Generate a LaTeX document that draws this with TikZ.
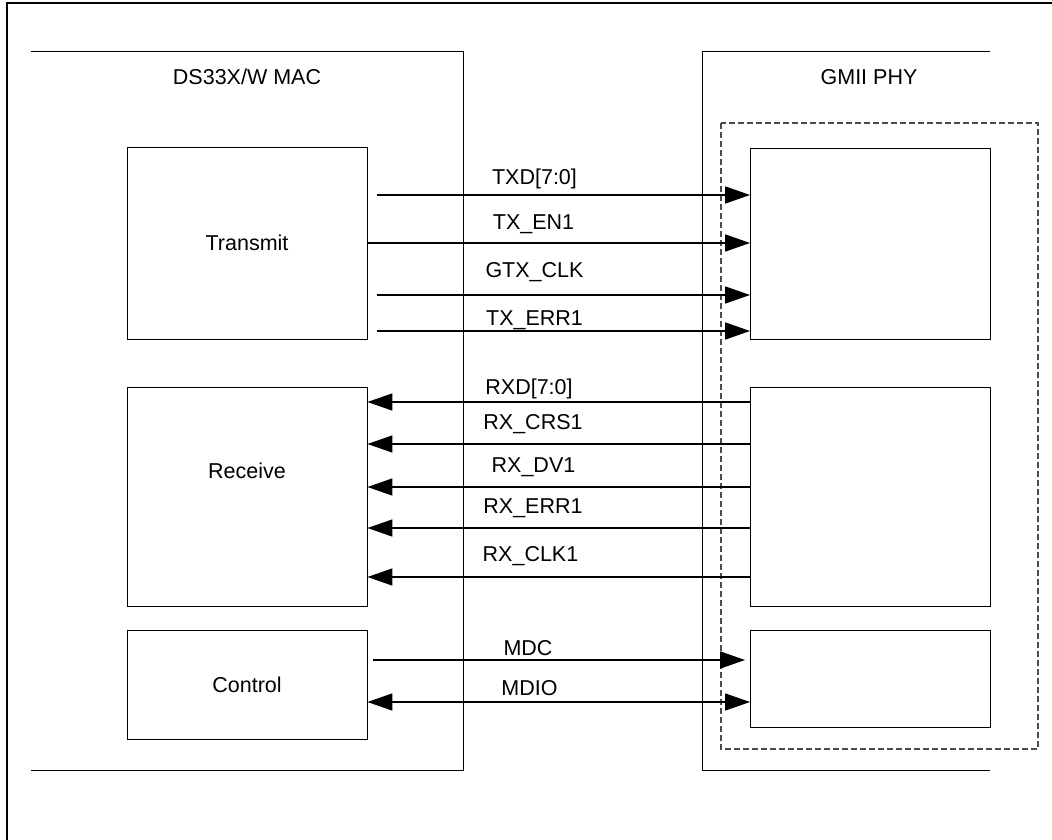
\documentclass[tikz,border=0pt]{standalone}
\usepackage{fontspec}
\setmainfont{Liberation Sans}
\usetikzlibrary{arrows.meta}

\tikzset{
  blk/.style={draw, line width=0.9pt, minimum width=240pt},
  sig/.style={line width=1.6pt, -{Triangle[length=25pt, width=17pt]}},
  bisig/.style={line width=1.6pt, {Triangle[length=25pt, width=17pt]}-{Triangle[length=25pt, width=17pt]}},
  phyarea/.style={draw=black!70, line width=1.2pt, dash pattern=on 6pt off 3pt}
}

\begin{document}
\begin{tikzpicture}[x=1pt, y=-1pt, font=\fontsize{21.5}{25}\selectfont]
  \useasboundingbox (0,0) rectangle (1052,840);

  % Outer frame
  \draw[line width=1.8pt] (7,840) -- (7,3) -- (1052,3);

  % MAC and PHY outlines
  \draw[line width=0.9pt] (31,51) -- (463,51) -- (463,770) -- (31,770);
  \draw[line width=0.9pt] (990,51) -- (702,51) -- (702,770) -- (990,770);
  \draw[phyarea] (721,123) rectangle (1038,749);
  \node (mac) at (247,77) {DS33X/W MAC};
  \node (phy) at (869,77) {GMII PHY};

  % Blocks
  \node[blk, minimum height=192pt] (tx) at (247,243) {Transmit};
  \node[blk, minimum height=219pt] (rx) at (247,496.5) {};
  \node (rxname) at (247,471) {Receive};
  \node[blk, minimum height=109pt] (ctl) at (247,684.5) {Control};
  \node[blk, minimum height=191pt] (ptx) at (870.5,243.5) {};
  \node[blk, minimum height=219pt] (prx) at (870.5,496.5) {};
  \node[blk, minimum height=97pt] (pctl) at (870.5,678.5) {};

  % Transmit signals
  \draw[sig, shorten <=10pt] (tx.east |- 0,195) -- (ptx.west |- 0,195);
  \draw[sig] (tx.east |- 0,243) -- (ptx.west |- 0,243);
  \draw[sig, shorten <=10pt] (tx.east |- 0,295) -- (ptx.west |- 0,295);
  \draw[sig, shorten <=10pt] (tx.east |- 0,331) -- (ptx.west |- 0,331);
  \node (txd) at (534.5,178.5) {TXD[7:0]};
  \node (txen) at (533.5,224.5) {TX\_EN1};
  \node (gtxclk) at (534.5,272) {GTX\_CLK};
  \node (txerr) at (534.5,320) {TX\_ERR1};

  % Receive signals
  \draw[sig] (prx.west |- 0,402) -- (rx.east |- 0,402);
  \draw[sig] (prx.west |- 0,444) -- (rx.east |- 0,444);
  \draw[sig] (prx.west |- 0,487) -- (rx.east |- 0,487);
  \draw[sig] (prx.west |- 0,528) -- (rx.east |- 0,528);
  \draw[sig] (prx.west |- 0,577) -- (rx.east |- 0,577);
  \node (rxd) at (529,389) {RXD[7:0]};
  \node (rxcrs) at (533,424.5) {RX\_CRS1};
  \node (rxdv) at (533.5,467) {RX\_DV1};
  \node (rxerr) at (533,508.5) {RX\_ERR1};
  \node (rxclk) at (530.5,556.5) {RX\_CLK1};

  % Management signals
  \draw[sig, shorten <=6pt, shorten >=5pt] (ctl.east |- 0,660) -- (pctl.west |- 0,660);
  \draw[bisig] (ctl.east |- 0,702) -- (pctl.west |- 0,702);
  \node (mdc) at (528,648.5) {MDC};
  \node (mdio) at (529.5,688.5) {MDIO};
\end{tikzpicture}
\end{document}
